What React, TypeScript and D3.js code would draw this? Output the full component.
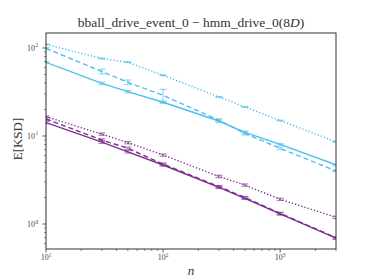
import React from "react";
import * as d3 from "d3";

const nValues = [10, 30, 50, 100, 300, 500, 1000, 3000];

const blueSolid = [68.7, 39.7, 31.9, 24.2, 14.8, 11.0, 8.05, 4.7];
const blueDashed = [99, 54, 40.8, 29, 15.1, 10.7, 7.25, 4.0];
const blueDotted = [110, 76, 69, 49, 27.7, 21.4, 15, 8.6];
const purpleSolid = [14.2, 8.5, 6.6, 4.68, 2.61, 1.96, 1.3, 0.69];
const purpleDashed = [15.6, 9.0, 7.25, 4.8, 2.66, 2.0, 1.32, 0.7];
const purpleDotted = [16.6, 10.5, 8.4, 6.08, 3.47, 2.77, 1.91, 1.19];

const blueSolidErr = [0.02, 0.03, 0.03, 0.03, 0.03, 0.03, 0.02, 0.02];
const blueDashedErr = [0.02, 0.06, 0.06, 0.17, 0.04, 0.04, 0.03, 0.02];
const blueDottedErr = [0.01, 0.01, 0.01, 0.01, 0.01, 0.01, 0.01, 0.01];
const purpleSolidErr = [0.03, 0.03, 0.03, 0.03, 0.03, 0.03, 0.03, 0.03];
const purpleDashedErr = [0.03, 0.03, 0.03, 0.03, 0.03, 0.03, 0.03, 0.03];
const purpleDottedErr = [0.02, 0.03, 0.03, 0.03, 0.03, 0.03, 0.03, 0.03];

const xMajorTicks = [10, 100, 1000];
const yMajorTicks = [1, 10, 100];

const BLUE = "#4DBEEE";
const PURPLE = "#7E2F8E";

const series = [
  { values: blueSolid, err: blueSolidErr, color: BLUE, dash: "none" },
  { values: blueDashed, err: blueDashedErr, color: BLUE, dash: "5,3" },
  { values: blueDotted, err: blueDottedErr, color: BLUE, dash: "1.3,2" },
  { values: purpleSolid, err: purpleSolidErr, color: PURPLE, dash: "none" },
  { values: purpleDashed, err: purpleDashedErr, color: PURPLE, dash: "5,3" },
  { values: purpleDotted, err: purpleDottedErr, color: PURPLE, dash: "1.3,2" },
];

const W = 374;
const H = 280;
const L = 46;
const R = 336;
const T = 33;
const B = 249;

export default function App() {
  const x = d3.scaleLog().domain([10, 3000]).range([L, R]);
  const y = d3.scaleLog().domain([0.52, 148]).range([B, T]);
  const line = d3
    .line<number>()
    .x((_, i) => x(nValues[i]))
    .y((v) => y(v));

  const xMinor: number[] = [];
  for (const dec of [10, 100, 1000]) {
    for (let k = 2; k <= 9; k++) {
      const v = dec * k;
      if (v <= 3000) xMinor.push(v);
    }
  }
  const yMinor: number[] = [];
  for (const dec of [0.1, 1, 10, 100]) {
    for (let k = 2; k <= 9; k++) {
      const v = dec * k;
      if (v >= 0.52 && v <= 148) yMinor.push(v);
    }
  }

  const axisColor = "#333";
  const font = '"Liberation Serif", "DejaVu Serif", serif';

  return (
    <svg width={W} height={H} style={{ position: "absolute", left: 0, top: 0, fontFamily: font }}>
      <rect x={0} y={0} width={W} height={H} fill="#fff" />
      <defs>
        <clipPath id="plotclip">
          <rect x={L} y={T} width={R - L} height={B - T} />
        </clipPath>
      </defs>
      <g clipPath="url(#plotclip)">
        {series.map((s, si) => (
          <g key={si}>
            <path
              d={line(s.values) || ""}
              fill="none"
              stroke={s.color}
              strokeWidth={1.4}
              strokeDasharray={s.dash}
            />
            {s.values.map((v, i) => {
              const cx = x(nValues[i]);
              const y1 = y(v * (1 + s.err[i]));
              const y2 = y(v * (1 - s.err[i]));
              return (
                <g key={i} stroke={s.color} strokeOpacity={0.6} strokeWidth={1.2}>
                  <line x1={cx} x2={cx} y1={y1} y2={y2} />
                  <line x1={cx - 3.5} x2={cx + 3.5} y1={y1} y2={y1} />
                  <line x1={cx - 3.5} x2={cx + 3.5} y1={y2} y2={y2} />
                </g>
              );
            })}
          </g>
        ))}
      </g>
      <rect x={L} y={T} width={R - L} height={B - T} fill="none" stroke={axisColor} strokeWidth={1} />
      {xMajorTicks.map((t) => (
        <g key={"xt" + t}>
          <line x1={x(t)} x2={x(t)} y1={B} y2={B + 3.5} stroke={axisColor} strokeWidth={0.8} />
          <text x={x(t)} y={B + 11} fontSize={8} textAnchor="middle" fill="#444">
            10
            <tspan fontSize={5.5} dy={-3.5}>
              {Math.round(Math.log10(t))}
            </tspan>
          </text>
        </g>
      ))}
      {xMinor.map((t) => (
        <line key={"xm" + t} x1={x(t)} x2={x(t)} y1={B} y2={B + 2} stroke={axisColor} strokeWidth={0.6} />
      ))}
      {yMajorTicks.map((t) => (
        <g key={"yt" + t}>
          <line x1={L - 3.5} x2={L} y1={y(t)} y2={y(t)} stroke={axisColor} strokeWidth={0.8} />
          <text x={L - 11} y={y(t) + 3} fontSize={8} textAnchor="end" fill="#444">
            10
          </text>
          <text x={L - 10.5} y={y(t) - 0.5} fontSize={5.5} textAnchor="start" fill="#444">
            {Math.round(Math.log10(t))}
          </text>
        </g>
      ))}
      {yMinor.map((t) => (
        <line key={"ym" + t} x1={L - 2} x2={L} y1={y(t)} y2={y(t)} stroke={axisColor} strokeWidth={0.6} />
      ))}
      <text x={(L + R) / 2} y={27} fontSize={13.5} textAnchor="middle" fill="#333">
        bball_drive_event_0 − hmm_drive_0(8<tspan fontStyle="italic">D</tspan>)
      </text>
      <text
        transform={`translate(22, ${(T + B) / 2 - 2}) rotate(-90)`}
        fontSize={13}
        textAnchor="middle"
        fill="#333"
      >
        E[KSD]
      </text>
      <text x={(L + R) / 2} y={275} fontSize={13} fontStyle="italic" textAnchor="middle" fill="#333">
        n
      </text>
    </svg>
  );
}
